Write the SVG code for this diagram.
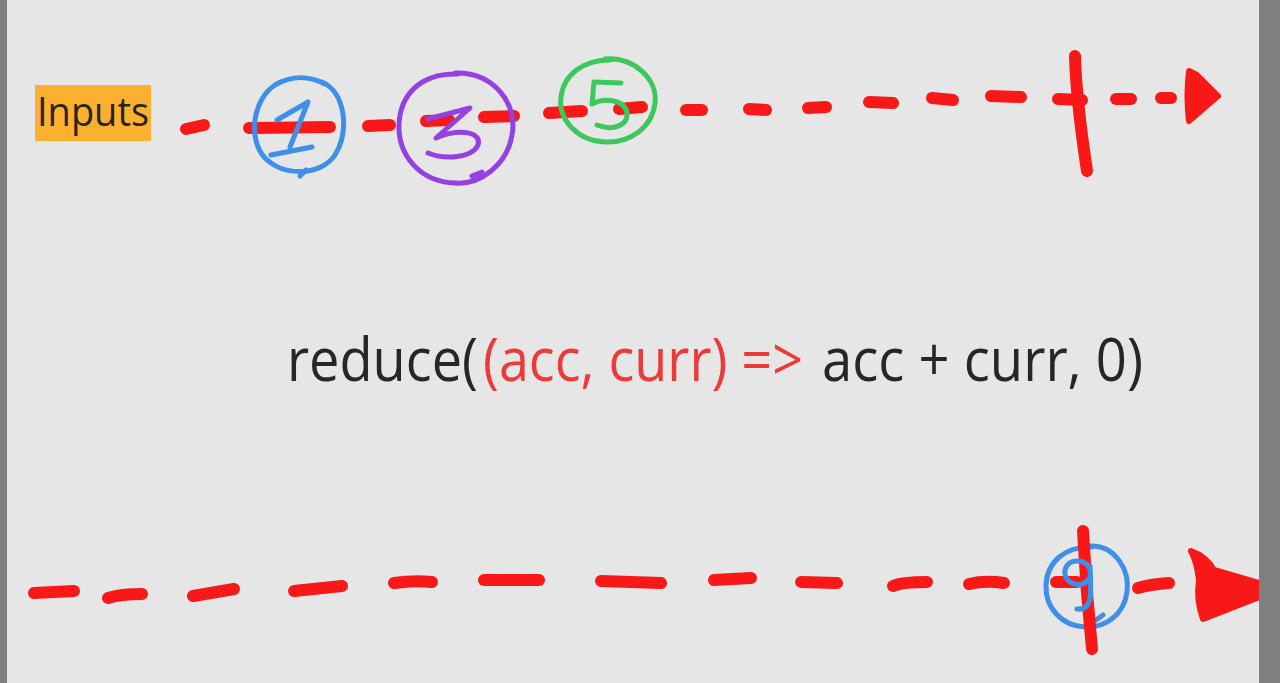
<svg xmlns="http://www.w3.org/2000/svg" width="1280" height="683" viewBox="0 0 1280 683">
<style>
.bg{fill:#e6e6e6}
.border{fill:#7f7f7f}
.dash{fill:none;stroke:#f81818;stroke-width:12;stroke-linecap:round;stroke-linejoin:round}
.head{fill:#f81818;stroke:#f81818;stroke-width:6;stroke-linejoin:round}
.ring{fill:none;stroke-width:5;stroke-linecap:round;stroke-linejoin:round}
.blue{stroke:#3d8fe8}
.purple{stroke:#9540e0}
.green{stroke:#3ec75c}
.code{font-family:"Open Sans","Noto Sans",sans-serif;font-size:61px;fill:#262626}
.red{fill:#ec3a36}
.label{font-family:"Open Sans","Noto Sans",sans-serif;font-size:41px;fill:#2a2418}
</style>
<rect class="bg" x="0" y="0" width="1280" height="683"/>

<g id="inputs">
<rect x="35" y="85" width="116" height="56" fill="#fbb12f"/>
<text class="label" x="37" y="126" textLength="112" lengthAdjust="spacingAndGlyphs">Inputs</text>
</g>

<g id="connectors">
<g id="top-line">
<path class="dash" d="M186,129 L204,125"/>
<path class="dash" d="M249,128 L330,127"/>
<path class="dash" d="M368,126 L390,125"/>
<path class="dash" d="M426,121 L449,120"/>
<path class="dash" d="M484,117 L514,116"/>
<path class="dash" d="M549,113 L582,111"/>
<path class="dash" d="M619,109 L642,107"/>
<path class="dash" d="M686,110 L702,110"/>
<path class="dash" d="M749,109 L766,110"/>
<path class="dash" d="M808,108 L826,107"/>
<path class="dash" d="M869,102 L893,103"/>
<path class="dash" d="M932,98 L953,100"/>
<path class="dash" d="M991,96 L1021,97"/>
<path class="dash" d="M1058,99 L1082,100"/>
<path class="dash" d="M1116,99 L1131,99"/>
<path class="dash" d="M1161,98 L1171,98"/>
<path class="dash" d="M1075,56 Q1076,98 1087,171"/>
<path class="head" d="M1189,71 L1197,75 L1218,96 L1189,121 Q1186,96 1189,71 Z"/>
</g>
<g id="bottom-line">
<path class="dash" d="M34,593 L74,591"/>
<path class="dash" d="M108,598 Q120,594 142,594"/>
<path class="dash" d="M193,596 L234,589"/>
<path class="dash" d="M294,591 L342,586"/>
<path class="dash" d="M394,583 Q415,580 432,582"/>
<path class="dash" d="M484,580 L539,580"/>
<path class="dash" d="M601,581 L661,583"/>
<path class="dash" d="M714,580 L751,578"/>
<path class="dash" d="M801,582 L837,583"/>
<path class="dash" d="M893,586 Q902,582 927,582"/>
<path class="dash" d="M969,584 Q985,580 1004,583"/>
<path class="dash" d="M1138,588 Q1152,584 1169,583"/>
</g>
</g>

<g id="node-1">
<path class="ring blue" d="M322,82 C345,92 350,130 335,155 C322,175 285,178 265,158 C248,140 252,100 275,85 C292,75 310,76 325,84 M300,176 L306,170"/>
<path class="ring blue" d="M277,120 L308,102 L290,147 M271,155 L312,147"/>
</g>

<g id="node-3">
<path class="ring purple" d="M455,73 C495,72 518,105 512,135 C507,165 480,185 455,183 C420,182 398,155 399,125 C400,95 420,73 458,74 M472,176 L482,172"/>
<path class="ring purple" d="M428,119 L470,108 L436,138 C460,128 482,132 478,145 C472,158 445,160 428,153"/>
</g>

<g id="node-5">
<path class="ring green" d="M605,59 C635,57 658,80 655,103 C652,128 630,143 605,142 C578,141 558,120 561,97 C564,73 585,60 610,60"/>
<path class="ring green" d="M621,83 L594,82 L592,104 C605,97 625,100 627,113 C628,126 612,131 597,125"/>
</g>

<g id="node-9">
<path class="ring blue" d="M1090,546 C1115,545 1130,570 1127,592 C1124,615 1105,628 1085,627 C1062,626 1045,608 1046,585 C1047,562 1065,546 1092,547 M1096,620 L1103,615"/>
<path class="dash" d="M1056,582 L1077,582"/>
<path class="dash" d="M1083,531 Q1086,590 1092,649"/>
<path class="ring blue" d="M1090,570 C1088,559 1068,557 1065,570 C1063,584 1082,590 1090,578 M1090,566 C1091,590 1094,611 1077,609"/>
</g>

<path class="head" d="M1191,551 Q1206,556 1214,570 L1262,584 L1262,596 L1203,619 Q1196,600 1199,580 Q1197,562 1191,551 Z"/>

<g id="code">
<text class="code" x="287" y="381" textLength="191" lengthAdjust="spacingAndGlyphs">reduce(</text>
<text class="code red" x="483" y="381" textLength="320" lengthAdjust="spacingAndGlyphs">(acc, curr) =&gt;</text>
<text class="code" x="822" y="381" textLength="321" lengthAdjust="spacingAndGlyphs">acc + curr, 0)</text>
</g>

<rect class="border" x="0" y="0" width="7" height="683"/>
<rect class="border" x="1259" y="0" width="21" height="683"/>
</svg>
